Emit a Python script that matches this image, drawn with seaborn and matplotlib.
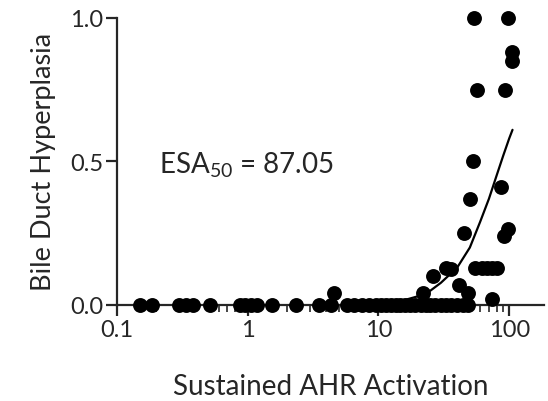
import numpy as np
import pandas as pd
import matplotlib
matplotlib.use("Agg")
import matplotlib.pyplot as plt
import seaborn as sns
from matplotlib.ticker import FixedLocator, NullFormatter

# observed points (sustained AHR activation, bile duct hyperplasia incidence)
zero_x = [0.15, 0.185, 0.30, 0.34, 0.38, 0.51, 0.87, 0.95, 1.05, 1.17, 1.52,
          2.35, 3.5, 4.3, 5.7, 6.5, 7.5, 8.5, 9.5, 10.5, 11.5, 12.5, 13.5,
          14.5, 16, 17.5, 19, 21, 23, 25, 27, 30, 33, 36, 40, 44, 48]
pos_x = [4.6, 22, 26, 33, 36, 41, 45, 48, 50, 53, 54, 57, 55, 62, 68, 74, 80,
         74, 87, 92, 98, 93, 98, 105, 105]
pos_y = [0.04, 0.04, 0.10, 0.13, 0.125, 0.07, 0.25, 0.04, 0.37, 0.50, 1.0,
         0.75, 0.13, 0.13, 0.13, 0.13, 0.13, 0.02, 0.41, 0.24, 0.265, 0.75,
         1.0, 0.88, 0.85]

# fitted curve
curve_x = [10, 15, 20, 25, 30, 40, 50, 60, 70, 80, 90, 100, 106]
curve_y = [0.005, 0.014, 0.03, 0.05, 0.077, 0.13, 0.20, 0.29, 0.37, 0.45,
           0.52, 0.58, 0.61]

esa50 = 87.05

df = pd.DataFrame({
    "activation": zero_x + pos_x,
    "incidence": [0.0] * len(zero_x) + pos_y,
})
fit = pd.DataFrame({"activation": curve_x, "incidence": curve_y})

sns.set_style("ticks")
plt.rcParams["font.family"] = ["Lato", "DejaVu Sans"]
plt.rcParams["mathtext.fontset"] = "custom"
plt.rcParams["mathtext.rm"] = "Lato"

fig = plt.figure(figsize=(5.48, 4.02), dpi=100)
ax = fig.add_axes([0.2135, 0.239, 0.78, 0.714])

sns.lineplot(data=fit, x="activation", y="incidence", color="black",
             linewidth=1.6, ax=ax)
sns.scatterplot(data=df, x="activation", y="incidence", color="black",
                s=115, edgecolor="black", linewidth=0, clip_on=False,
                zorder=3, ax=ax)

ax.set_xscale("log")
ax.set_xlim(0.1, 186)
ax.set_ylim(0, 1.0)
ax.set_xticks([0.1, 1, 10, 100])
ax.set_xticklabels(["0.1", "1", "10", "100"])
minors = [m * 10.0 ** e for e in range(-1, 3) for m in range(2, 10)]
ax.xaxis.set_minor_locator(FixedLocator([v for v in minors if v < 186]))
ax.xaxis.set_minor_formatter(NullFormatter())
ax.set_yticks([0.0, 0.5, 1.0])
ax.set_yticklabels(["0.0", "0.5", "1.0"])

for side in ["top", "right"]:
    ax.spines[side].set_visible(False)
for side in ["left", "bottom"]:
    ax.spines[side].set_linewidth(1.6)
ax.tick_params(axis="both", which="major", length=8, width=1.6,
               labelsize=17, pad=2)
ax.tick_params(axis="x", which="minor", length=5, width=1.2)

ax.set_xlabel("Sustained AHR Activation", fontsize=20, labelpad=24)
ax.set_ylabel("Bile Duct Hyperplasia", fontsize=19.5, labelpad=10)

ax.text(0.21, 0.49, "ESA$_{50}$ = %.2f" % esa50, fontsize=20,
        transform=ax.transData, ha="left", va="center")

fig.savefig("out.png", dpi=100)
